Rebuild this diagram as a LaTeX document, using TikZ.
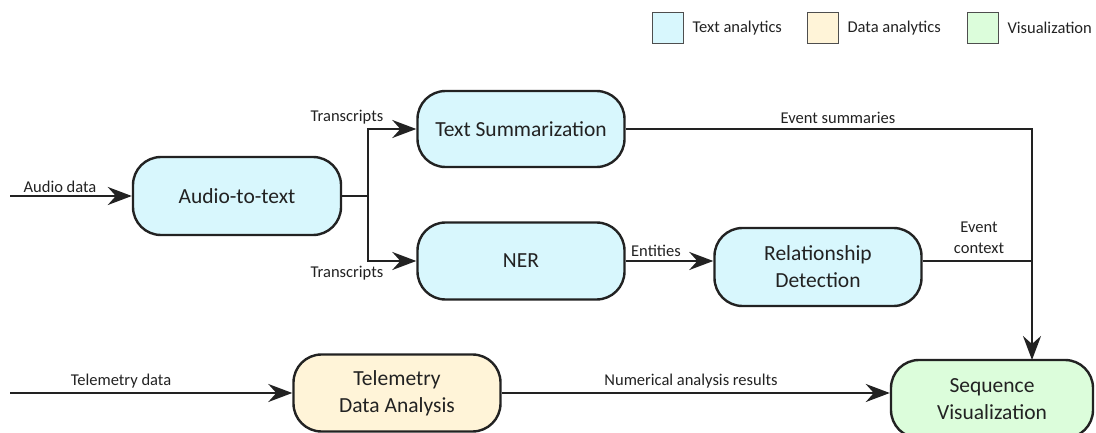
\documentclass[tikz,border=0pt]{standalone}
\usepackage{fontspec}
\setmainfont{Carlito}
\usetikzlibrary{arrows.meta}
\definecolor{textc}{HTML}{D8F7FD}
\definecolor{datac}{HTML}{FFF4D8}
\definecolor{visc}{HTML}{DCFDDB}
\definecolor{edge}{HTML}{222222}
\begin{document}
\begin{tikzpicture}[x=1pt,y=-1pt,
  proc/.style={draw=edge, line width=2.4pt, rounded corners=28pt, minimum width=207pt, minimum height=77pt, align=center, font=\fontsize{21.5}{27}\selectfont, text=edge, inner sep=0pt},
  legbox/.style={draw=edge!80, line width=1pt, minimum width=31pt, minimum height=31pt, inner sep=0pt},
  legtxt/.style={anchor=west, font=\fontsize{16.5}{20}\selectfont, text=edge},
  lbl/.style={font=\fontsize{16.5}{21}\selectfont, text=edge, inner sep=0pt},
  conn/.style={draw=edge, line width=2.4pt},
  arr/.style={conn, -{Stealth[length=24pt,width=18pt,inset=8pt]}}
]
\useasboundingbox (0,0) rectangle (1096,433);
\clip (0,0) rectangle (1096,433);
% legend
\node[legbox, fill=textc] (l1) at (668,28) {};
\node[legtxt] (l1t) at (689,28) {Text analytics};
\node[legbox, fill=datac] (l2) at (823,28) {};
\node[legtxt] (l2t) at (844,28) {Data analytics};
\node[legbox, fill=visc] (l3) at (983,28) {};
\node[legtxt] (l3t) at (1004,28) {Visualization};
% nodes
\node[proc, fill=textc, minimum width=208pt, minimum height=78pt] (att) at (237,196) {Audio-to-text};
\node[proc, fill=textc, minimum height=76pt] (ts) at (521,129) {Text Summarization};
\node[proc, fill=textc] (ner) at (521,261) {NER};
\node[proc, fill=textc, minimum height=78pt] (rd) at (818,267) {Relationship\\Detection};
\node[proc, fill=datac] (tda) at (397,393) {Telemetry\\Data Analysis};
\node[proc, fill=visc, minimum width=202pt, minimum height=78pt] (sv) at (992,399) {Sequence\\Visualization};
% coordinates
\coordinate (ain) at (10,196);
\coordinate (tin) at (10,393);
\coordinate (j) at (368,196);
\coordinate (cx) at (1032,129);
\coordinate (svtop) at (1032,360);
% connectors
\draw[arr] (ain) -- (att.west);
\node[lbl] (ad) at (60,187) {Audio data};
\draw[conn] (att.east) -- (j);
\draw[arr] (j) |- (ts.west);
\draw[arr] (j) |- (ner.west);
\node[lbl] (tr1) at (347,117) {Transcripts};
\node[lbl] (tr2) at (347,273) {Transcripts};
\draw[arr] (ts.east) -- (cx) -- (svtop);
\node[lbl] (es) at (838,118) {Event summaries};
\draw[arr] (ner.east) -- (rd.west |- ner.east);
\node[lbl] (en) at (656,251) {Entities};
\draw[conn] (rd.east |- ner.east) -- (1032,261);
\node[lbl, align=center] (ec) at (979,238) {Event\\context};
\draw[arr] (tin) -- (tda.west);
\node[lbl] (td) at (121,381) {Telemetry data};
\draw[arr] (tda.east) -- (sv.west |- tda.east);
\node[lbl] (nar) at (691,381) {Numerical analysis results};
\end{tikzpicture}
\end{document}
